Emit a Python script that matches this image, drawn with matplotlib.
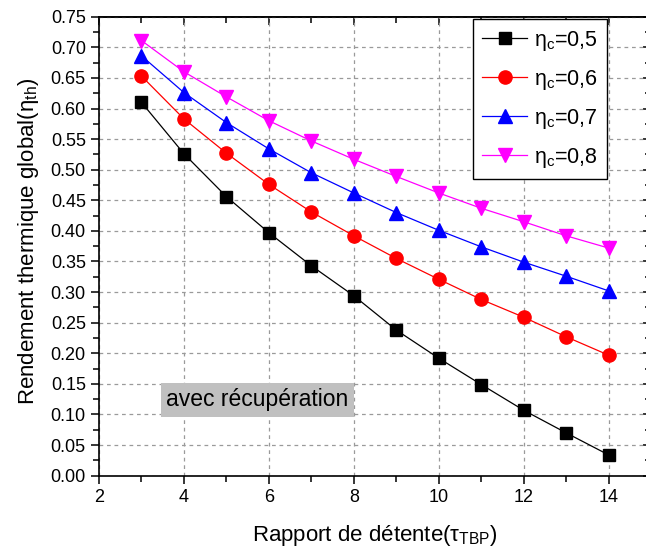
import matplotlib
matplotlib.use("Agg")
import matplotlib.pyplot as plt
from matplotlib.ticker import MultipleLocator, FormatStrFormatter

plt.rcParams['font.family'] = ['Liberation Sans', 'DejaVu Sans']
plt.rcParams['mathtext.fontset'] = 'custom'
plt.rcParams['mathtext.rm'] = 'Liberation Sans'
plt.rcParams['mathtext.it'] = 'Liberation Sans:italic'

# ---- data ----
tau = [3, 4, 5, 6, 7, 8, 9, 10, 11, 12, 13, 14]
eta_05 = [0.610, 0.526, 0.456, 0.397, 0.343, 0.294, 0.238, 0.192, 0.149, 0.107, 0.070, 0.034]
eta_06 = [0.653, 0.583, 0.527, 0.476, 0.431, 0.392, 0.355, 0.321, 0.288, 0.259, 0.227, 0.197]
eta_07 = [0.686, 0.626, 0.577, 0.534, 0.495, 0.462, 0.430, 0.401, 0.374, 0.349, 0.326, 0.302]
eta_08 = [0.711, 0.660, 0.619, 0.580, 0.547, 0.517, 0.489, 0.462, 0.437, 0.415, 0.392, 0.372]

labels = ['0,5', '0,6', '0,7', '0,8']
colors = ['black', 'red', 'blue', '#ff00ff']
markers = ['s', 'o', '^', 'v']
msizes = [8, 9.5, 10, 10]

fig = plt.figure(figsize=(6.46, 5.55), dpi=100)
ax = fig.add_axes([0.1533, 0.1429, 0.8545, 0.827])

for ys, lab, c, m, ms in zip([eta_05, eta_06, eta_07, eta_08], labels, colors, markers, msizes):
    ax.plot(tau, ys, color=c, marker=m, markersize=ms, linewidth=0.9,
            label=r'η$_{\rm c}$=' + lab, zorder=3)

ax.set_xlim(2, 15)
ax.set_ylim(0, 0.75)
ax.xaxis.set_major_locator(MultipleLocator(2))
ax.xaxis.set_minor_locator(MultipleLocator(1))
ax.yaxis.set_major_locator(MultipleLocator(0.05))
ax.yaxis.set_minor_locator(MultipleLocator(0.025))
ax.yaxis.set_major_formatter(FormatStrFormatter('%.2f'))

ax.grid(True, which='major', color='#9a9a9a', linestyle=(0, (3, 3)), linewidth=0.9)
ax.set_axisbelow(True)

for s in ax.spines.values():
    s.set_linewidth(1.2)
ax.tick_params(which='both', direction='out', width=1.1, labelsize=13, top=False, right=False)
ax.tick_params(which='major', length=6)
ax.tick_params(which='minor', length=4)

# mirrored axes with inward ticks (top and right)
sx = ax.secondary_xaxis('top')
sx.set_xticks([2, 4, 6, 8, 10, 12, 14])
sx.xaxis.set_minor_locator(MultipleLocator(1))
sx.tick_params(which='both', direction='in', labeltop=False, width=1.1)
sx.tick_params(which='major', length=6)
sx.tick_params(which='minor', length=4)
sx.spines['top'].set_linewidth(1.2)

sy = ax.secondary_yaxis('right')
sy.yaxis.set_major_locator(MultipleLocator(0.05))
sy.yaxis.set_minor_locator(MultipleLocator(0.025))
sy.tick_params(which='both', direction='in', labelright=False, width=1.1)
sy.tick_params(which='major', length=6)
sy.tick_params(which='minor', length=4)

ax.set_xlabel(r'Rapport de détente(τ$_{\rm TBP}$)', fontsize=16, labelpad=12)
ax.set_ylabel(r'Rendement thermique global(η$_{\rm th}$)', fontsize=16)
ax.yaxis.set_label_coords(-0.106, 0.51)

ax.text(3.58, 0.124, 'avec récupération', fontsize=16.5, va='center', ha='left',
        bbox=dict(facecolor='#c0c0c0', edgecolor='none', pad=4), zorder=4)

leg = ax.legend(loc='upper right', bbox_to_anchor=(0.920, 0.994), borderaxespad=0,
                fontsize=15.5, frameon=True, fancybox=False, edgecolor='black',
                handlelength=2.1, labelspacing=0.7, borderpad=0.42, handletextpad=0.3)
leg.get_frame().set_linewidth(1.0)
leg.get_frame().set_alpha(1)

fig.savefig('out.png', dpi=100)
